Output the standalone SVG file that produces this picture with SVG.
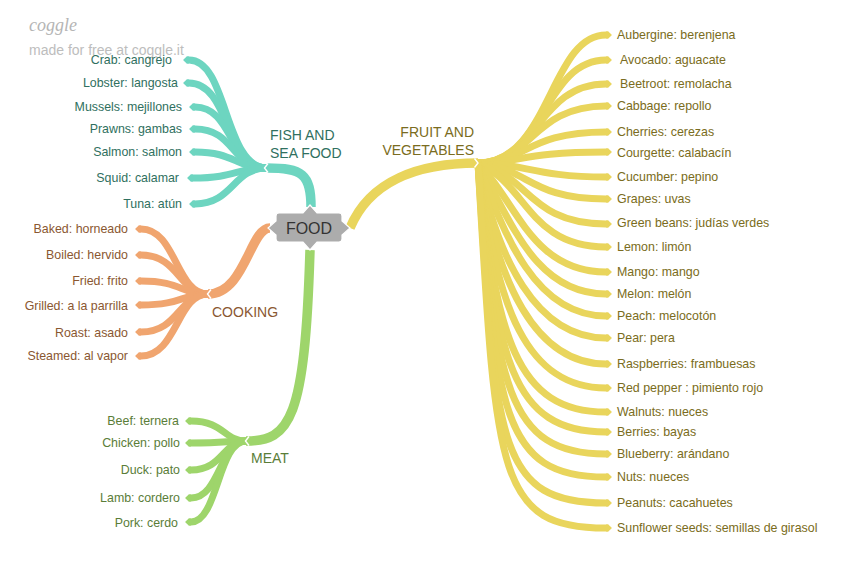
<svg xmlns="http://www.w3.org/2000/svg" width="848" height="571" viewBox="0 0 848 571">
<style>
text{font-family:"Liberation Sans",Arial,sans-serif;font-size:12.4px}
.cat{font-size:14px}
.leaf{fill:none;stroke-width:7;stroke-linecap:butt}
.trunk{fill:none;stroke-width:9.5;stroke-linecap:butt}
.t{stroke:#6dd5c0}.o{stroke:#f0a56f}.g{stroke:#9ed56b}.y{stroke:#e9d55c}
.tt{fill:#2f7060}.ot{fill:#8a5731}.gt{fill:#5a7d38}.yt{fill:#7a6c20}
.notch{fill:none;stroke:#fff;stroke-width:1.4}
.t.leaf{marker-end:url(#mt)}.o.leaf{marker-end:url(#mo)}.g.leaf{marker-end:url(#mg)}.y.leaf{marker-end:url(#my)}
</style>
<defs>
<marker id="mt" viewBox="0 -0.6 1 1.2" refX="0" refY="0" markerWidth="1" markerHeight="1.2" orient="auto"><path d="M0,-0.55L0.3,-0.55L0.85,0L0.3,0.55L0,0.55Z" fill="#6dd5c0"/></marker>
<marker id="mo" viewBox="0 -0.6 1 1.2" refX="0" refY="0" markerWidth="1" markerHeight="1.2" orient="auto"><path d="M0,-0.55L0.3,-0.55L0.85,0L0.3,0.55L0,0.55Z" fill="#f0a56f"/></marker>
<marker id="mg" viewBox="0 -0.6 1 1.2" refX="0" refY="0" markerWidth="1" markerHeight="1.2" orient="auto"><path d="M0,-0.55L0.3,-0.55L0.85,0L0.3,0.55L0,0.55Z" fill="#9ed56b"/></marker>
<marker id="my" viewBox="0 -0.6 1 1.2" refX="0" refY="0" markerWidth="1" markerHeight="1.2" orient="auto"><path d="M0,-0.55L0.3,-0.55L0.85,0L0.3,0.55L0,0.55Z" fill="#e9d55c"/></marker>
</defs>
<rect width="848" height="571" fill="#fff"/>
<g id="logo">
<text x="29" y="31" style="font-family:'Liberation Serif',serif;font-style:italic;font-size:18px" fill="#b5b5b5">coggle</text>
<text x="29" y="55" style="font-size:14px" fill="#bdbdbd">made for free at coggle.it</text>
</g>
<g id="connectors">
<path class="leaf t" d="M267,168 C224,168 228,60 189,60"/>
<path class="leaf t" d="M267,168 C226,168 230,83 189,83"/>
<path class="leaf t" d="M267,168 C229,168 233,107 195,107"/>
<path class="leaf t" d="M267,168 C231,168 235,129 195,129"/>
<path class="leaf t" d="M267,168 C235,168 235,152 195,152"/>
<path class="leaf t" d="M267,168 C236,168 236,178 193,178"/>
<path class="leaf t" d="M267,168 C233,168 233,204 195,204"/>
<path class="leaf o" d="M208,294 C176,294 176,229 141,229"/>
<path class="leaf o" d="M208,294 C179,294 179,255 141,255"/>
<path class="leaf o" d="M208,294 C181,294 181,281 141,281"/>
<path class="leaf o" d="M208,294 C182,294 182,305 141,305"/>
<path class="leaf o" d="M208,294 C179,294 179,332 141,332"/>
<path class="leaf o" d="M208,294 C177,294 177,356 141,356"/>
<path class="leaf g" d="M246,441 C224,441 224,421 191,421"/>
<path class="leaf g" d="M246,441 C226,441 226,443 191,443"/>
<path class="leaf g" d="M246,441 C223,441 223,470 191,470"/>
<path class="leaf g" d="M246,441 C220,441 220,498 191,498"/>
<path class="leaf g" d="M246,441 C218,441 218,522 191,522"/>
<path class="leaf y" d="M478,163 C550,163 550,35 606,35"/>
<path class="leaf y" d="M478,163 C544,163 544,60 606,60"/>
<path class="leaf y" d="M478,163 C538,163 538,84 606,84"/>
<path class="leaf y" d="M478,163 C532,163 532,106 606,106"/>
<path class="leaf y" d="M478,163 C526,163 526,132 606,132"/>
<path class="leaf y" d="M478,163 C521,163 521,152 606,152"/>
<path class="leaf y" d="M478,163 C523,163 535,177 606,177"/>
<path class="leaf y" d="M478,163 C529,168 529,199 606,199"/>
<path class="leaf y" d="M478,163 C529,175 529,224 606,224"/>
<path class="leaf y" d="M478,163 C527,184 529,247 606,247"/>
<path class="leaf y" d="M478,163 C516,201 532,272 606,272"/>
<path class="leaf y" d="M478,163 C510,218 534,294 606,294"/>
<path class="leaf y" d="M478,163 C504,236 536,316 606,316"/>
<path class="leaf y" d="M478,163 C497,258 536,338 606,338"/>
<path class="leaf y" d="M478,163 C496,284 536,364 606,364"/>
<path class="leaf y" d="M478,163 C496,309 527,388 606,388"/>
<path class="leaf y" d="M478,163 C496,337 516,412 606,412"/>
<path class="leaf y" d="M478,163 C496,359 511,432 606,432"/>
<path class="leaf y" d="M478,163 C496,384 506,454 606,454"/>
<path class="leaf y" d="M478,163 C496,411 501,477 606,477"/>
<path class="leaf y" d="M478,163 C496,442 496,503 606,503"/>
<path class="leaf y" d="M478,163 C496,473 496,528 606,528"/>
<path class="trunk t" d="M311,207 C311,174 302,168 267,168"/>
<path class="trunk o" d="M270,228 C250,228 245,294 208,294"/>
<path class="trunk g" d="M310,250 C305,420 290,441 246,441"/>
<path class="trunk y" d="M350,228 C370,180 420,163 478,163"/>
<path class="notch" d="M268,163.5 L264.5,168 L268,172.5"/>
<path class="notch" d="M211,289.5 L207.5,294 L211,298.5"/>
<path class="notch" d="M249,436.5 L245.5,441 L249,445.5"/>
<path class="notch" d="M474.5,158.5 L478,163 L474.5,167.5"/>
</g>
<g id="food">
<path d="M279,213 L303,213 L310,205 L317,213 L339,213 Q342,213 342,216 L342,221 L350,228 L342,235 L342,239 Q342,242 339,242 L317,242 L310,250 L303,242 L279,242 Q276,242 276,239 L276,235 L268,228 L276,221 L276,216 Q276,213 279,213 Z" fill="#acacac" stroke="#fff" stroke-width="1.2"/>
<text x="309" y="234" text-anchor="middle" style="font-size:16px" fill="#333">FOOD</text>
</g>
<g id="fish" class="tt"><text class="cat" x="270" y="140">FISH AND</text><text class="cat" x="270" y="158">SEA FOOD</text></g>
<g id="cooking" class="ot"><text class="cat" x="212" y="317">COOKING</text></g>
<g id="meat" class="gt"><text class="cat" x="251" y="463">MEAT</text></g>
<g id="fruit" class="yt"><text class="cat" x="474" y="137" text-anchor="end">FRUIT AND</text><text class="cat" x="474" y="155" text-anchor="end">VEGETABLES</text></g>
<g class="tt" text-anchor="end">
<g id="crab"><text x="172" y="64">Crab: cangrejo</text></g>
<g id="lobster"><text x="178" y="87">Lobster: langosta</text></g>
<g id="mussels"><text x="182" y="111">Mussels: mejillones</text></g>
<g id="prawns"><text x="182" y="133">Prawns: gambas</text></g>
<g id="salmon"><text x="182" y="156">Salmon: salmon</text></g>
<g id="squid"><text x="179" y="182">Squid: calamar</text></g>
<g id="tuna"><text x="182" y="208">Tuna: atún</text></g>
</g>
<g class="ot" text-anchor="end">
<g id="baked"><text x="128" y="233">Baked: horneado</text></g>
<g id="boiled"><text x="128" y="259">Boiled: hervido</text></g>
<g id="fried"><text x="128" y="285">Fried: frito</text></g>
<g id="grilled"><text x="128" y="310">Grilled: a la parrilla</text></g>
<g id="roast"><text x="128" y="337">Roast: asado</text></g>
<g id="steamed"><text x="128" y="360">Steamed: al vapor</text></g>
</g>
<g class="gt" text-anchor="end">
<g id="beef"><text x="179" y="425">Beef: ternera</text></g>
<g id="chicken"><text x="180" y="447">Chicken: pollo</text></g>
<g id="duck"><text x="180" y="474">Duck: pato</text></g>
<g id="lamb"><text x="180" y="502">Lamb: cordero</text></g>
<g id="pork"><text x="178" y="527">Pork: cerdo</text></g>
</g>
<g class="yt">
<g id="aubergine"><text x="617" y="39">Aubergine: berenjena</text></g>
<g id="avocado"><text x="620" y="64">Avocado: aguacate</text></g>
<g id="beetroot"><text x="620" y="88">Beetroot: remolacha</text></g>
<g id="cabbage"><text x="617" y="110">Cabbage: repollo</text></g>
<g id="cherries"><text x="617" y="136">Cherries: cerezas</text></g>
<g id="courgette"><text x="617" y="157">Courgette: calabacín</text></g>
<g id="cucumber"><text x="617" y="181">Cucumber: pepino</text></g>
<g id="grapes"><text x="617" y="203">Grapes: uvas</text></g>
<g id="greenbeans"><text x="617" y="227">Green beans: judías verdes</text></g>
<g id="lemon"><text x="617" y="251">Lemon: limón</text></g>
<g id="mango"><text x="617" y="276">Mango: mango</text></g>
<g id="melon"><text x="617" y="298">Melon: melón</text></g>
<g id="peach"><text x="617" y="320">Peach: melocotón</text></g>
<g id="pear"><text x="617" y="342">Pear: pera</text></g>
<g id="raspberries"><text x="617" y="368">Raspberries: frambuesas</text></g>
<g id="redpepper"><text x="617" y="392">Red pepper : pimiento rojo</text></g>
<g id="walnuts"><text x="617" y="416">Walnuts: nueces</text></g>
<g id="berries"><text x="617" y="436">Berries: bayas</text></g>
<g id="blueberry"><text x="617" y="458">Blueberry: arándano</text></g>
<g id="nuts"><text x="617" y="481">Nuts: nueces</text></g>
<g id="peanuts"><text x="617" y="507">Peanuts: cacahuetes</text></g>
<g id="sunflower"><text x="617" y="532">Sunflower seeds: semillas de girasol</text></g>
</g>
</svg>
